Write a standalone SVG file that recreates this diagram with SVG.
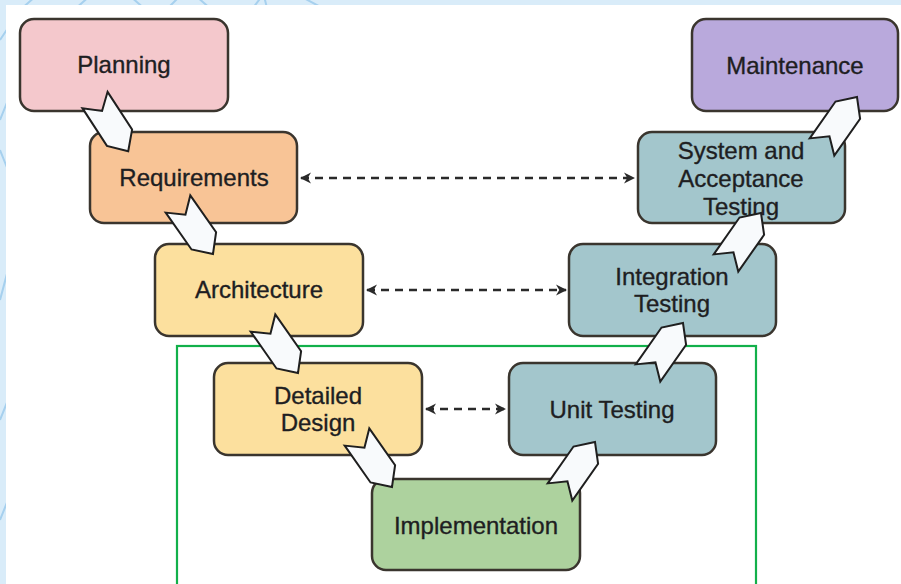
<svg xmlns="http://www.w3.org/2000/svg" width="901" height="584" viewBox="0 0 901 584">
  <style>
    .box { stroke: #3a352e; stroke-width: 2.5; }
    .lbl { font-family: "Liberation Sans", Arial, sans-serif; font-size: 24px; fill: #1e1e22; stroke: #1e1e22; stroke-width: 0.35; text-anchor: middle; }
    .dash { fill: none; stroke: #2a2a2a; stroke-width: 2.5; stroke-dasharray: 8 6; }
    .chev { fill: #f8fafc; stroke: #1f1f1f; stroke-width: 2; stroke-linejoin: miter; }
    .deco { fill: none; stroke: #a6d0ee; stroke-width: 2; }
  </style>
  <defs>
    <marker id="ah" viewBox="0 0 10 10" refX="9" refY="5" markerWidth="4.5" markerHeight="4.5" orient="auto-start-reverse" markerUnits="strokeWidth">
      <path d="M0,0 L10,5 L0,10 L3,5 Z" fill="#2a2a2a"/>
    </marker>
    <path id="chevron" d="M0,-15 L45,-15 L61,0 L45,15 L0,15 L13,0 Z"/>
    <clipPath id="bandclip">
      <rect x="0" y="0" width="901" height="5"/>
      <rect x="0" y="0" width="6" height="584"/>
    </clipPath>
  </defs>

  <!-- background -->
  <rect x="0" y="0" width="901" height="584" fill="#ffffff"/>
  <g id="background">
    <rect x="0" y="0" width="901" height="5" fill="#d9ecf9"/>
    <rect x="0" y="0" width="6" height="584" fill="#d9ecf9"/>
    <g clip-path="url(#bandclip)">
      <path class="deco" d="M20,10 L36,-4 M74,10 L92,-6 M130,-4 L146,10 M166,10 L180,-4 M196,-4 L212,10 M250,12 L262,-4 M264,-4 L268,12 M300,-4 L330,12 M0,40 L8,28 M0,120 L8,100 M0,150 L8,170 M0,300 L8,270 M0,420 L8,400 M0,520 L8,500"/>
    </g>
  </g>

  <!-- green frame -->
  <rect id="frame" x="177" y="346" width="579" height="250" fill="none" stroke="#12b04a" stroke-width="2.2"/>

  <!-- nodes -->
  <g id="planning">
    <rect class="box" x="20" y="19" width="208" height="92" rx="14" fill="#f4c8cc"/>
    <text class="lbl" x="124" y="73">Planning</text>
  </g>
  <g id="requirements">
    <rect class="box" x="90" y="132" width="207" height="91" rx="14" fill="#f8c496"/>
    <text class="lbl" x="194" y="186">Requirements</text>
  </g>
  <g id="architecture">
    <rect class="box" x="155" y="244" width="208" height="92" rx="14" fill="#fce09e"/>
    <text class="lbl" x="259" y="298">Architecture</text>
  </g>
  <g id="detailed-design">
    <rect class="box" x="214" y="363" width="208" height="92" rx="14" fill="#fce09e"/>
    <text class="lbl" x="318" y="404">Detailed</text>
    <text class="lbl" x="318" y="431">Design</text>
  </g>
  <g id="implementation">
    <rect class="box" x="372" y="479" width="208" height="91" rx="14" fill="#add29e"/>
    <text class="lbl" x="476" y="534">Implementation</text>
  </g>
  <g id="unit-testing">
    <rect class="box" x="509" y="363" width="207" height="92" rx="14" fill="#a3c6cc"/>
    <text class="lbl" x="612" y="418">Unit Testing</text>
  </g>
  <g id="integration-testing">
    <rect class="box" x="569" y="244" width="207" height="92" rx="14" fill="#a3c6cc"/>
    <text class="lbl" x="672" y="285">Integration</text>
    <text class="lbl" x="672" y="312">Testing</text>
  </g>
  <g id="system-acceptance-testing">
    <rect class="box" x="638" y="132" width="207" height="91" rx="14" fill="#a3c6cc"/>
    <text class="lbl" x="741" y="159">System and</text>
    <text class="lbl" x="741" y="187">Acceptance</text>
    <text class="lbl" x="741" y="215">Testing</text>
  </g>
  <g id="maintenance">
    <rect class="box" x="692" y="19" width="206" height="92" rx="14" fill="#b9a9dc"/>
    <text class="lbl" x="795" y="74">Maintenance</text>
  </g>

  <!-- connectors -->
  <g id="connectors">
    <line class="dash" x1="301" y1="178" x2="634" y2="178" marker-start="url(#ah)" marker-end="url(#ah)"/>
    <line class="dash" x1="367" y1="290" x2="566" y2="290" marker-start="url(#ah)" marker-end="url(#ah)"/>
    <line class="dash" x1="426" y1="409" x2="505" y2="409" marker-start="url(#ah)" marker-end="url(#ah)"/>

    <use href="#chevron" class="chev" transform="translate(95,100) rotate(57)"/>
    <use href="#chevron" class="chev" transform="translate(178,204) rotate(55)"/>
    <use href="#chevron" class="chev" transform="translate(263,323) rotate(55)"/>
    <use href="#chevron" class="chev" transform="translate(357,437) rotate(55)"/>
    <use href="#chevron" class="chev" transform="translate(560,492) rotate(-55)"/>
    <use href="#chevron" class="chev" transform="translate(648,373) rotate(-55)"/>
    <use href="#chevron" class="chev" transform="translate(726,263) rotate(-55)"/>
    <use href="#chevron" class="chev" transform="translate(822,147) rotate(-55)"/>
  </g>
</svg>
